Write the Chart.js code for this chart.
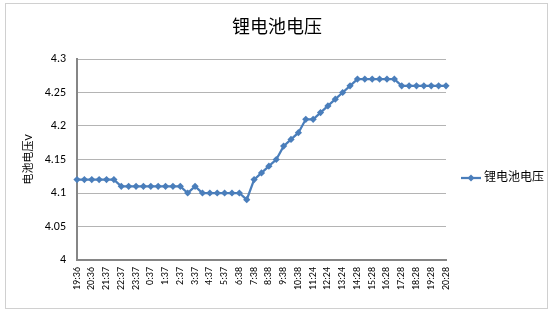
<!DOCTYPE html>
<html>
<head>
<meta charset="utf-8">
<script src="https://cdn.jsdelivr.net/npm/chart.js@4.4.1/dist/chart.umd.min.js"></script>
<style>
    html, body { margin: 0; padding: 0; background: #fff; }
    #wrap { position: relative; width: 553px; height: 313px; }
    #frame { position: absolute; left: 5px; top: 3px; width: 543px; height: 306px; border: 1px solid #d0d0d0; box-sizing: border-box; pointer-events: none; }
</style>
</head>
<body>
<div id="wrap">
    <canvas id="chart" width="553" height="313"></canvas>
    <div id="frame"></div>
</div>
<script>
    // Labels shown on the x axis (every other category)
    const tickLabels = [
        '19:36', '20:36', '21:37', '22:37', '23:37', '0:37', '1:37', '2:37', '3:37',
        '4:37', '5:37', '6:38', '7:38', '8:38', '9:38', '10:38', '11:24', '12:24',
        '13:24', '14:28', '15:28', '16:28', '17:28', '18:28', '19:28', '20:28'
    ];

    // Battery voltage readings (V), one per category
    const voltage = [
        4.12, 4.12, 4.12, 4.12, 4.12, 4.12,
        4.11, 4.11, 4.11, 4.11, 4.11, 4.11, 4.11, 4.11, 4.11,
        4.10, 4.11,
        4.10, 4.10, 4.10, 4.10, 4.10, 4.10,
        4.09,
        4.12, 4.13, 4.14, 4.15, 4.17, 4.18, 4.19, 4.21, 4.21,
        4.22, 4.23, 4.24, 4.25, 4.26,
        4.27, 4.27, 4.27, 4.27, 4.27, 4.27,
        4.26, 4.26, 4.26, 4.26, 4.26, 4.26, 4.26
    ];

    const seriesName = '锂电池电压';
    const lineColor = '#4a7ebb';
    const fontFamily = 'Calibri, "Liberation Sans", "Noto Sans CJK SC", sans-serif';

    // Categories: readings between the labelled ones have no visible label
    const categories = voltage.map(function (v, i) {
        return i % 2 === 0 ? tickLabels[i / 2] : '';
    });

    // Chart title centred on the whole canvas, plus Excel-style legend on the right
    const decorPlugin = {
        id: 'decor',
        afterDraw: function (chart) {
            const ctx = chart.ctx;
            ctx.save();
            ctx.fillStyle = '#000';
            ctx.font = '18px ' + fontFamily;
            ctx.textAlign = 'center';
            ctx.textBaseline = 'middle';
            ctx.fillText(seriesName, 277, 28);

            const y = 178;
            ctx.strokeStyle = lineColor;
            ctx.lineWidth = 2.25;
            ctx.beginPath();
            ctx.moveTo(461, y);
            ctx.lineTo(481, y);
            ctx.stroke();
            ctx.fillStyle = lineColor;
            ctx.beginPath();
            ctx.moveTo(471, y - 3.5);
            ctx.lineTo(474.5, y);
            ctx.lineTo(471, y + 3.5);
            ctx.lineTo(467.5, y);
            ctx.closePath();
            ctx.fill();
            ctx.fillStyle = '#000';
            ctx.font = '12px ' + fontFamily;
            ctx.textAlign = 'left';
            ctx.fillText(seriesName, 484, y);
            ctx.restore();
        }
    };

    new Chart(document.getElementById('chart').getContext('2d'), {
        type: 'line',
        data: {
            labels: categories,
            datasets: [{
                label: seriesName,
                data: voltage,
                borderColor: lineColor,
                backgroundColor: lineColor,
                borderWidth: 2.25,
                pointStyle: 'rectRot',
                pointRadius: 3.6,
                pointBorderWidth: 0,
                tension: 0,
                fill: false
            }]
        },
        options: {
            responsive: false,
            animation: false,
            layout: {
                padding: { left: 0, right: 107, top: 59, bottom: 0 }
            },
            plugins: {
                legend: { display: false },
                tooltip: { enabled: false },
                title: { display: false }
            },
            scales: {
                x: {
                    grid: { display: false, drawTicks: false },
                    border: { color: '#868686', width: 2 },
                    ticks: {
                        autoSkip: false,
                        maxRotation: 90,
                        minRotation: 90,
                        padding: 7,
                        color: '#000',
                        font: { family: fontFamily, size: 10 }
                    },
                    afterFit: function (scale) { scale.height = 53; }
                },
                y: {
                    min: 4,
                    max: 4.3,
                    grid: { color: '#b4b4b4', lineWidth: 1, drawTicks: false },
                    border: { color: '#868686', width: 2 },
                    ticks: {
                        stepSize: 0.05,
                        padding: 11,
                        color: '#000',
                        font: { family: fontFamily, size: 12 },
                        callback: function (value) {
                            return parseFloat(value.toFixed(2)).toString();
                        }
                    },
                    title: {
                        display: true,
                        text: '电池电压V',
                        color: '#000',
                        font: { family: fontFamily, size: 11 },
                        padding: { top: 23, bottom: 0 }
                    },
                    afterFit: function (scale) { scale.width = 77; }
                }
            }
        },
        plugins: [decorPlugin]
    });
</script>
</body>
</html>
